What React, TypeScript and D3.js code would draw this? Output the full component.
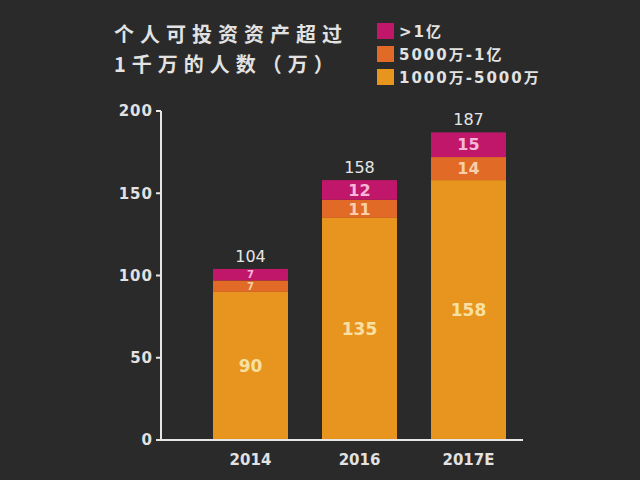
import React from "react";
import * as d3 from "d3";

const categories = ["2014", "2016", "2017E"];
const seriesNames = ["1000万-5000万", "5000万-1亿", ">1亿"];
const lowValues = [90, 135, 158];
const midValues = [7, 11, 14];
const highValues = [7, 12, 15];
const totals = [104, 158, 187];
const yTicks = [0, 50, 100, 150, 200];
const titleLines = ["个人可投资资产超过", "1千万的人数（万）"];

const colors = ["#e8951f", "#e06a26", "#c0176a"];
const labelColors = ["#f8e0a2", "#f8cfa8", "#f7b8d8"];

export default function App() {
  const W = 640, H = 480;
  const x0 = 161, yTop = 111, yBottom = 440;
  const y = d3.scaleLinear().domain([0, 200]).range([yBottom, yTop]);
  const x = d3.scaleBand().domain(categories).range([213, 506]).paddingInner(0.312).paddingOuter(0);

  const rows = categories.map((c, i) => ({ cat: c, low: lowValues[i], mid: midValues[i], high: highValues[i] }));
  const stack = d3.stack<any>().keys(["low", "mid", "high"])(rows);
  const font = "'DejaVu Sans', Verdana, sans-serif";
  const cjk = "'DejaVu Sans', 'Noto Sans CJK SC', sans-serif";

  return (
    <div style={{ position: "fixed", left: 0, top: 0, width: W, height: H }}>
      <svg width={W} height={H} style={{ display: "block", background: "#2a2a2a" }} fontFamily={font}>
        <rect width={W} height={H} fill="#2a2a2a" />
        {titleLines.map((t, i) => (
          <text key={i} x={114} y={42 + i * 30} fill="#e2e2e2" fontSize={20} fontWeight="bold" letterSpacing={6}
            fontFamily="'Noto Sans CJK SC', sans-serif">{t}</text>
        ))}
        {[...seriesNames].reverse().map((n, i) => (
          <g key={n} transform={`translate(377,${23 + i * 23})`}>
            <rect width={17} height={16} fill={colors[2 - i]} />
            <text x={22} y={14} fill="#e2e2e2" fontSize={15} fontWeight="bold" letterSpacing={2} fontFamily={cjk}>{n}</text>
          </g>
        ))}
        {stack.map((layer, li) =>
          layer.map((d, i) => {
            const cat = categories[i];
            const bx = x(cat)!;
            const top = y(d[1]), bot = y(d[0]);
            const val = d[1] - d[0];
            const big = li === 0;
            return (
              <g key={`${li}-${i}`}>
                <rect x={bx} y={top} width={x.bandwidth()} height={bot - top} fill={colors[li]} />
                <text x={bx + x.bandwidth() / 2} y={(top + bot) / 2} dy="0.36em" textAnchor="middle"
                  fill={labelColors[li]} fontSize={big ? 17 : (val < 10 ? 10 : 16)} fontWeight="bold">{val}</text>
              </g>
            );
          })
        )}
        {categories.map((c, i) => (
          <text key={c} x={x(c)! + x.bandwidth() / 2} y={y(totals[i]) - 7} textAnchor="middle" fill="#e6e6e6" fontSize={16}>{totals[i]}</text>
        ))}
        <line x1={x0} x2={x0} y1={yTop} y2={yBottom} stroke="#e6e6e6" strokeWidth={2} />
        <line x1={x0} x2={523} y1={yBottom} y2={yBottom} stroke="#e6e6e6" strokeWidth={2} />
        {yTicks.map(t => (
          <g key={t}>
            <line x1={x0 - 5} x2={x0} y1={y(t)} y2={y(t)} stroke="#e6e6e6" strokeWidth={2} />
            <text x={x0 - 8} y={y(t)} dy="0.36em" textAnchor="end" fill="#e2e2e2" fontSize={15} fontWeight="bold" letterSpacing={1}>{t}</text>
          </g>
        ))}
        {categories.map(c => (
          <text key={c} x={x(c)! + x.bandwidth() / 2} y={465} textAnchor="middle" fill="#e2e2e2" fontSize={15} fontWeight="bold">{c}</text>
        ))}
      </svg>
    </div>
  );
}
